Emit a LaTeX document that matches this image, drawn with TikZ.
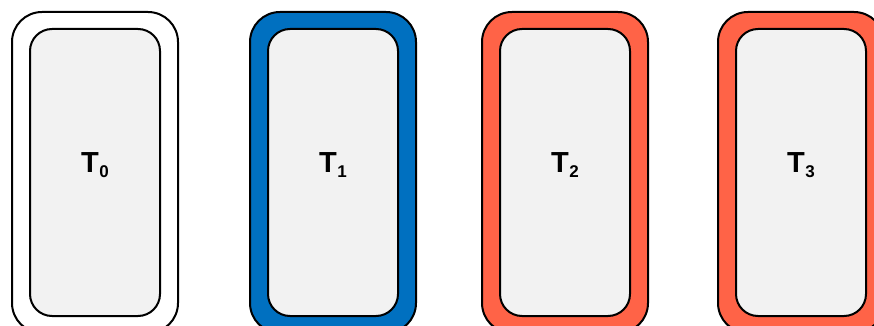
\documentclass[tikz,border=0pt]{standalone}
\usepackage{fontspec}
\setmainfont{Liberation Sans}
\definecolor{tblue}{HTML}{0070C0}
\definecolor{torange}{HTML}{FF6347}
\definecolor{tgray}{HTML}{F2F2F2}
\tikzset{
  outerbox/.style={draw=black, line width=2pt, rounded corners=30pt, minimum width=166pt, minimum height=321pt, inner sep=0pt},
  innerbox/.style={draw=black, fill=tgray, line width=2pt, rounded corners=22pt, minimum width=130pt, minimum height=287pt, inner sep=0pt},
  tlabel/.style={font=\bfseries\fontsize{29}{29}\selectfont, inner sep=0pt}
}
\newcommand{\tsub}[1]{T\kern0.5pt\raisebox{-4.5pt}{\fontsize{17}{17}\selectfont #1}}
\begin{document}
\begin{tikzpicture}[x=1pt,y=-1pt]
\useasboundingbox (0,0) rectangle (874,326);
\clip (0,0) rectangle (874,326);
\node[outerbox, fill=white] (o0) at (95,172.5) {};
\node[innerbox] (i0) at (95,172.5) {};
\node[tlabel] (t0) at (95,165) {\tsub{0}};
\node[outerbox, fill=tblue] (o1) at (333,172.5) {};
\node[innerbox] (i1) at (333,172.5) {};
\node[tlabel] (t1) at (333,165) {\tsub{1}};
\node[outerbox, fill=torange] (o2) at (565,172.5) {};
\node[innerbox] (i2) at (565,172.5) {};
\node[tlabel] (t2) at (565,165) {\tsub{2}};
\node[outerbox, fill=torange] (o3) at (801,172.5) {};
\node[innerbox] (i3) at (801,172.5) {};
\node[tlabel] (t3) at (801,165) {\tsub{3}};
\end{tikzpicture}
\end{document}
